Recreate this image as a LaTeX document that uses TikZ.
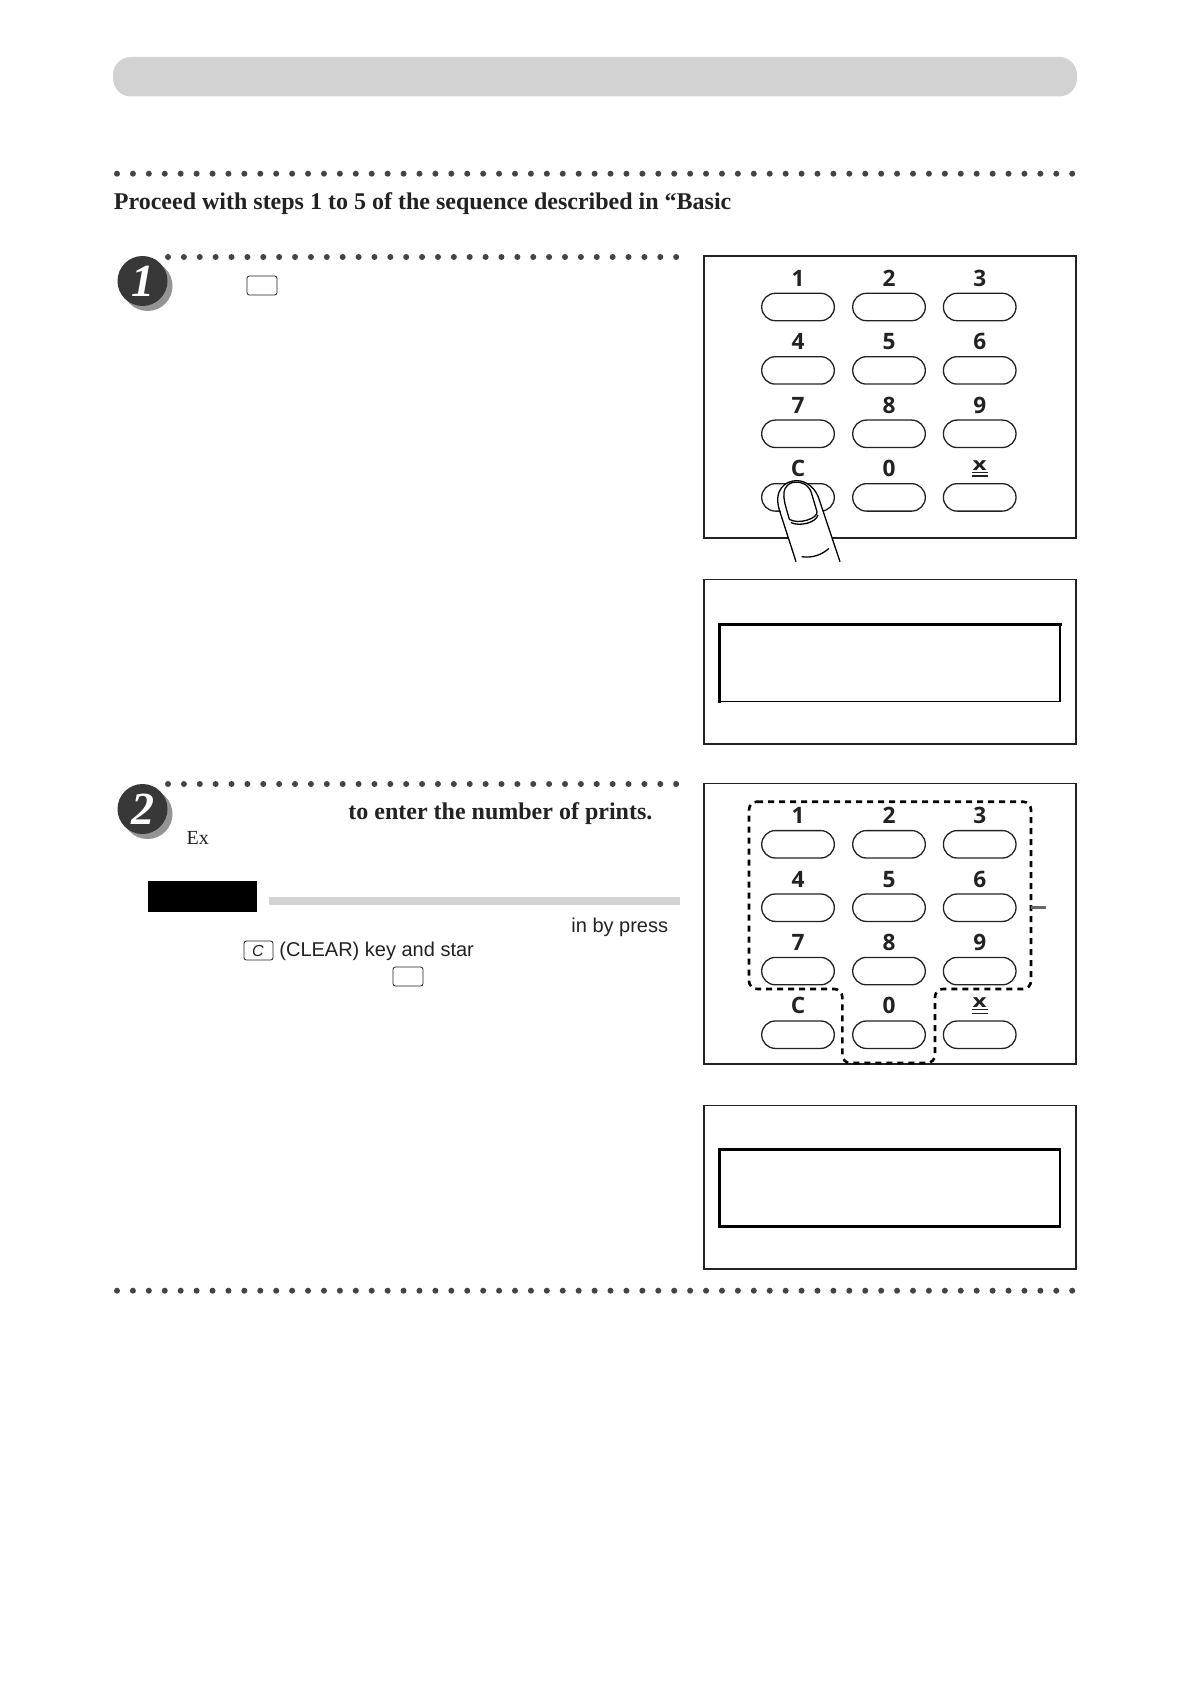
\documentclass[tikz,border=0pt]{standalone}
\usepackage{fontspec}
\usepackage{graphicx}
\setmainfont{Liberation Serif}
\setsansfont{Liberation Sans}
\newfontfamily\keyfont{Open Sans}
\usetikzlibrary{calc}
\definecolor{barg}{HTML}{D2D2D2}
\definecolor{ink}{HTML}{222222}
\definecolor{dotg}{HTML}{444444}
\tikzset{
  panel/.style={draw=ink,line width=0.8pt,fill=white},
  keybtn/.style={draw=ink,line width=0.65pt,fill=white,rounded corners=6.8pt},
  keylabel/.style={inner sep=0pt,font=\keyfont\bfseries\fontsize{11.3}{11.3}\selectfont,text=ink,anchor=center},
  keycap/.style={draw=ink,line width=0.4pt,fill=white,rounded corners=1.2pt},
  lcd/.style={draw=black,line width=0.7pt},
  lcdthick/.style={draw=black,line width=1.5pt,line cap=rect},
  dotline/.style={fill=dotg,draw=none},
  badge/.style={circle,fill=ink!90!white,minimum size=25pt,inner sep=0pt,text=white,font=\bfseries\itshape\fontsize{23}{23}\selectfont},
  badgesh/.style={circle,fill=black!42,minimum size=25pt,inner sep=0pt},
  headtext/.style={inner sep=0pt,anchor=base west,text=ink,font=\bfseries\fontsize{12}{12}\selectfont},
  bodyser/.style={inner sep=0pt,anchor=base west,text=ink,font=\fontsize{10}{10}\selectfont},
  bodysan/.style={inner sep=0pt,anchor=base west,text=ink,font=\sffamily\fontsize{10}{10}\selectfont},
  fingerline/.style={draw=black,line width=0.65pt,line join=round},
  dashoutline/.style={draw=black,line width=1.3pt,dash pattern=on 3pt off 2.5pt,rounded corners=4pt}
}
\newcommand{\keypad}[2]{% #1 = y of button rows shift, #2 = name prefix
  \foreach \cx/\col in {798/a,889/b,979.7/c}{
    \foreach \ry/\row in {0/a,63.4/b,126.8/c,190.4/d}{
      \node[keybtn,minimum width=36.3pt,minimum height=13.7pt,inner sep=0pt] (#2\col\row) at (\cx,#1+\ry) {};
    }
  }
  \foreach \cx/\ry/\lab/\nm in {798/-28.6/1/p,889/-28.6/2/q,979.7/-28.6/3/r,
      798/34.8/4/s,889/34.8/5/t,979.7/34.8/6/u,
      798/98.4/7/v,889/98.4/8/w,979.7/98.4/9/x,
      798/161.4/C/y,889/161.4/0/z}{
    \node[keylabel] (#2l\nm) at (\cx,#1+\ry) {\lab};
  }
  \node[keylabel,font=\keyfont\bfseries\fontsize{9}{9}\selectfont] (#2lstar) at (979.7,#1+158.5) {\scalebox{1.35}[1]{x}};
  \draw[ink,line width=0.55pt] (971.5,#1+165.3) -- (988,#1+165.3);
  \draw[ink,line width=0.55pt] (971.5,#1+169) -- (988,#1+169);
}
\newcommand{\dotrow}[4]{% y, x0, step, count
  \foreach \k in {0,...,#4}{
    \fill[dotline] ({#2+\k*#3},#1) circle (1.5pt);
  }
}
\begin{document}
\begin{tikzpicture}[x=0.5pt,y=-0.5pt]
\useasboundingbox[fill=white] (0,0) rectangle (1190,1684);
% header
\fill[barg,rounded corners=9pt] (113,57) rectangle (1077,96.5);
% top dots
\dotrow{173.7}{117}{15.92}{60}
\node[headtext] (title) at (113.5,209.5) {Proceed with steps 1 to 5 of the sequence described in “Basic};
% step 1
\dotrow{257}{168}{15.88}{32}
\node[badgesh] (sh1) at (147.5,286) {};
\node[badge] (b1) at (142.5,281) {1};
\draw[keycap] (247,276) rectangle (277,295);
% panel 1
\draw[panel] (704,256) rectangle (1076,537.7);
\keypad{307}{m}
% finger
\begin{scope}[shift={(690,240)},x=0.16667pt,y=-0.16667pt]
  \fill[white] (318,965) -- (265,790) .. controls (255,750) and (285,722) .. (320,722)
     .. controls (350,722) and (378,745) .. (385,775) -- (450,965) -- cycle;
  \draw[fingerline] (318,965) -- (268,810) .. controls (250,750) and (285,722) .. (320,722)
     .. controls (350,722) and (378,745) .. (388,780) -- (450,965);
  \draw[fingerline] (298,838) .. controls (285,790) and (265,745) .. (305,728)
     .. controls (345,720) and (362,745) .. (366,765) -- (381,815)
     .. controls (385,835) and (325,855) .. (298,838);
  \draw[fingerline] (303,848) .. controls (330,860) and (378,848) .. (384,825);
  \draw[fingerline] (335,950) .. controls (365,955) and (395,945) .. (417,925);
\end{scope}
% panel 2
\draw[panel] (704,579.3) rectangle (1076,743.7);
\draw[lcd] (719.3,624) rectangle (1060,701.3);
\draw[lcdthick] (719.3,701.3) -- (719.3,624) -- (1060,624);
% step 2
\dotrow{784}{168}{15.88}{32}
\node[badgesh] (sh2) at (147.5,814) {};
\node[badge] (b2) at (142.5,809) {2};
\node[headtext] (t2) at (348,819.5) {to enter the number of prints.};
\node[bodyser] (ex) at (186.3,844) {Ex};
\fill[black] (148,881) rectangle (257,912);
\fill[barg] (269,897) rectangle (680,905);
\node[bodysan] (t3) at (571,932) {in by press};
\draw[keycap] (244,941) rectangle (273,960);
\node[inner sep=0pt,text=ink,font=\sffamily\itshape\fontsize{8}{8}\selectfont] (cc) at (258,950.5) {C};
\node[bodysan] (t4) at (279,956) {(CLEAR) key and star};
\draw[keycap] (393,967) rectangle (423,986);
% panel 3
\draw[panel] (704,783.6) rectangle (1076,1063.7);
\keypad{844.3}{n}
\draw[dashoutline] (749,801.7) -- (1031,801.7) -- (1031,989) -- (935,989) -- (935,1063) -- (842.3,1063) -- (842.3,989) -- (749,989) -- cycle;
\coordinate (tk1) at (1031,907.5);
\coordinate (tk2) at (1046,907.5);
\draw[black!60,line width=1.1pt] (tk1) -- (tk2);
% panel 4
\draw[panel] (704,1105.3) rectangle (1076,1268.7);
\draw[draw=black,line width=1.25pt] (719.3,1149.5) rectangle (1060,1226.7);
% bottom dots
\dotrow{1290.7}{117}{15.92}{60}
\end{tikzpicture}
\end{document}
